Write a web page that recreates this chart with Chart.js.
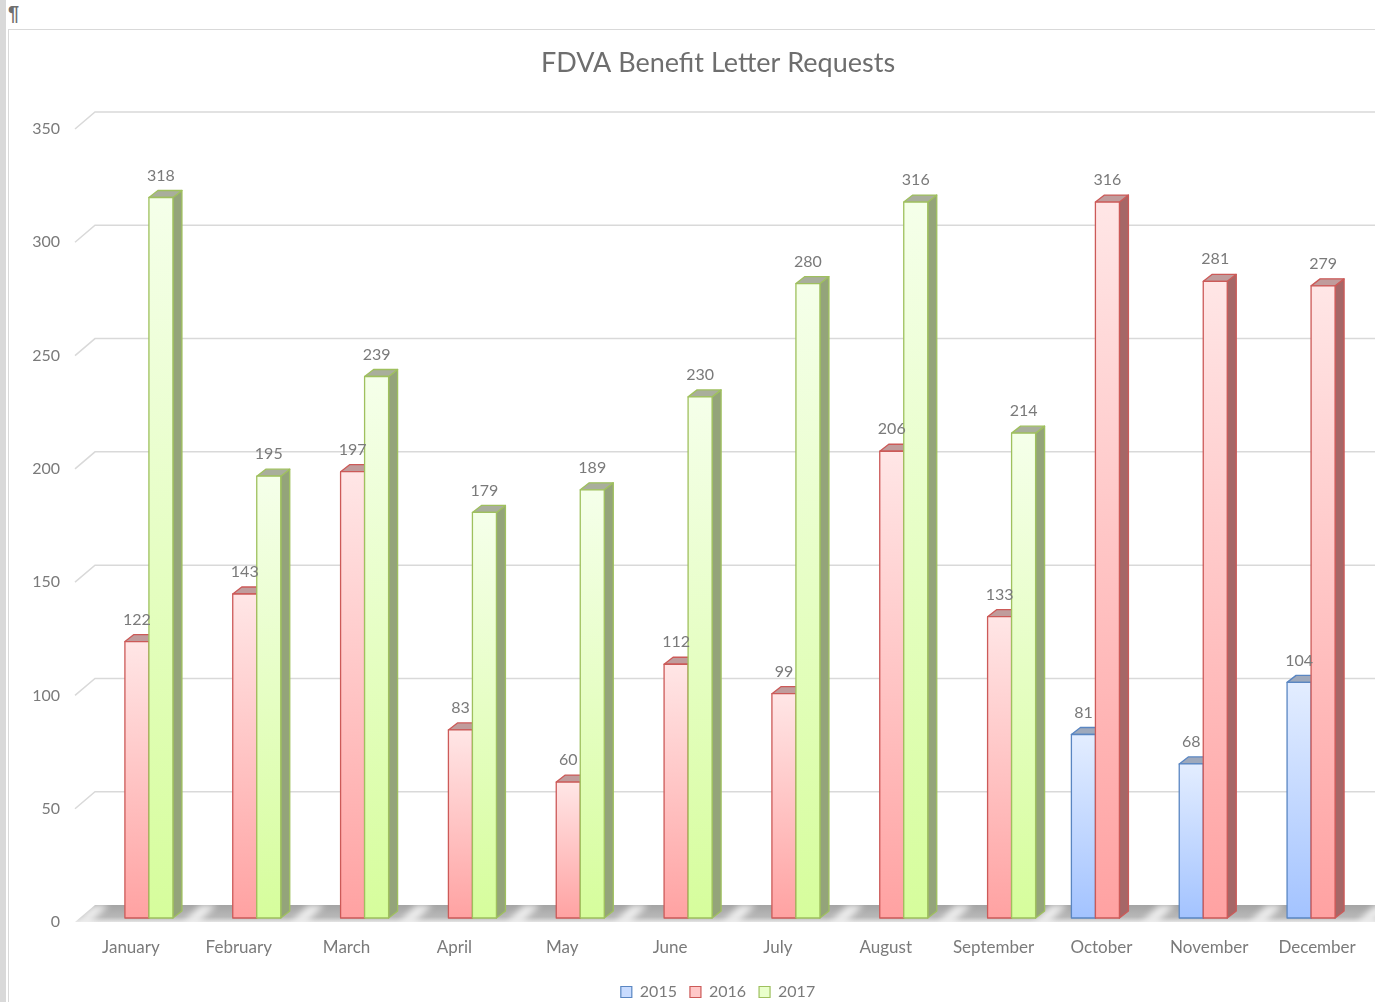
<!DOCTYPE html>
<html>
<head>
<meta charset="utf-8">
<script src="https://cdn.jsdelivr.net/npm/chart.js@4.4.1/dist/chart.umd.min.js"></script>
<style>
  html, body { margin: 0; padding: 0; background: #fff; overflow: hidden; width: 1375px; height: 1002px; }
  #strip { position: absolute; left: 0; top: 0; width: 6px; height: 1002px; background: #d9d9d9; }
  #pilcrow { position: absolute; left: 8px; top: 2px; font: bold 20px "Liberation Sans", sans-serif; color: #6f6f6f; }
  #box { position: absolute; left: 8px; top: 29px; width: 1420px; height: 973px; }
  #frameTop { position: absolute; left: 8px; top: 29px; width: 1420px; height: 1px; background: #d9d9d9; }
  #frameLeft { position: absolute; left: 8px; top: 29px; width: 1px; height: 973px; background: #d9d9d9; }
</style>
</head>
<body>
<div id="strip"></div>
<div id="pilcrow">¶</div>
<div id="box"><canvas id="chart" width="1420" height="973" style="width:1420px;height:973px"></canvas></div>
<div id="frameTop"></div>
<div id="frameLeft"></div>
<script>
// Monthly benefit letter requests
const months = ['January', 'February', 'March', 'April', 'May', 'June',
                'July', 'August', 'September', 'October', 'November', 'December'];
const seriesNames = ['2015', '2016', '2017'];
const requests2015 = [null, null, null, null, null, null, null, null, null, 81, 68, 104];
const requests2016 = [122, 143, 197, 83, 60, 112, 99, 206, 133, 316, 281, 279];
const requests2017 = [318, 195, 239, 179, 189, 230, 280, 316, 214, null, null, null];
const yMin = 0, yMax = 350, yStep = 50;

const FONT = 'Lato, "Open Sans", sans-serif';
const TEXT = '#7a7a7a';
const DEPTH_X = 9, DEPTH_Y = 7;

// Face colours for each series: front gradient, outline, top cap, right side
const looks = [
  { hi: '#e3edff', lo: '#a3c3ff', edge: '#5a86c2', cap: '#9ea9bc', side: '#7c8ca8', chip: '#c9dcff' },
  { hi: '#ffe6e6', lo: '#ffa2a2', edge: '#cc5a58', cap: '#c09c9c', side: '#a66767', chip: '#ffc8c8' },
  { hi: '#f5ffea', lo: '#d6fd9c', edge: '#9fc05e', cap: '#a9ae9c', side: '#94a47a', chip: '#e9ffcb' }
];

// Back wall gridlines plus the shaded floor
const wallAndFloor = {
  id: 'wallAndFloor',
  beforeDatasetsDraw(chart) {
    const { ctx, chartArea: a, scales: { x, y } } = chart;
    const W = chart.width;
    ctx.save();
    ctx.strokeStyle = '#d9d9d9';
    ctx.lineWidth = 1.5;
    y.ticks.forEach(t => {
      if (t.value === 0) return;
      const py = y.getPixelForValue(t.value);
      ctx.beginPath();
      ctx.moveTo(a.left - 8, py + 4);
      ctx.lineTo(a.left + 12, py - 13);
      ctx.lineTo(W, py - 13);
      ctx.stroke();
    });

    const y0 = y.getPixelForValue(0);
    const back = y0 - 13, front = y0 + 4;
    const g = ctx.createLinearGradient(0, back, 0, front);
    g.addColorStop(0, '#a4a4a4');
    g.addColorStop(0.7, '#b8b8b8');
    g.addColorStop(1, '#e4e4e4');
    ctx.fillStyle = g;
    ctx.beginPath();
    ctx.moveTo(a.left - 8, front);
    ctx.lineTo(a.left + 12, back);
    ctx.lineTo(W, back);
    ctx.lineTo(W, front);
    ctx.closePath();
    ctx.fill();

    // light streaks in the gaps between month groups
    const half = x.width / months.length / 2;
    ctx.filter = 'blur(3px)';
    ctx.fillStyle = 'rgba(255,255,255,0.75)';
    for (let i = 0; i <= months.length; i++) {
      const gx = x.getPixelForValue(i) - half + (i < 9 ? 6 : -6);
      ctx.beginPath();
      ctx.moveTo(gx - 14, front);
      ctx.lineTo(gx + 2, front);
      ctx.lineTo(gx + 20, back);
      ctx.lineTo(gx + 4, back);
      ctx.closePath();
      ctx.fill();
    }
    ctx.restore();
  }
};

// Columns drawn as boxes: front face, right side, top cap, then value labels
const boxColumns = {
  id: 'boxColumns',
  afterDatasetsDraw(chart) {
    const { ctx } = chart;
    ctx.save();
    ctx.lineWidth = 1.3;
    ctx.lineJoin = 'round';
    const labels = [];
    chart.data.datasets.forEach((ds, di) => {
      const meta = chart.getDatasetMeta(di);
      const lk = looks[di];
      meta.data.forEach((el, j) => {
        const v = ds.data[j];
        if (v === null || v === undefined) return;
        const { x, y, base, width } = el.getProps(['x', 'y', 'base', 'width'], true);
        const L = x - width / 2, R = x + width / 2;
        // right side
        ctx.beginPath();
        ctx.moveTo(R, y);
        ctx.lineTo(R + DEPTH_X, y - DEPTH_Y);
        ctx.lineTo(R + DEPTH_X, base - DEPTH_Y);
        ctx.lineTo(R, base);
        ctx.closePath();
        ctx.fillStyle = lk.side;
        ctx.fill();
        ctx.strokeStyle = lk.edge;
        ctx.stroke();
        // top cap
        ctx.beginPath();
        ctx.moveTo(L, y);
        ctx.lineTo(L + DEPTH_X, y - DEPTH_Y);
        ctx.lineTo(R + DEPTH_X, y - DEPTH_Y);
        ctx.lineTo(R, y);
        ctx.closePath();
        ctx.fillStyle = lk.cap;
        ctx.fill();
        ctx.stroke();
        // front face
        const g = ctx.createLinearGradient(0, y, 0, base);
        g.addColorStop(0, lk.hi);
        g.addColorStop(1, lk.lo);
        ctx.fillStyle = g;
        ctx.fillRect(L, y, width, base - y);
        ctx.strokeRect(L, y, width, base - y);
        labels.push({ x, y, v });
      });
    });
    ctx.fillStyle = TEXT;
    ctx.font = '16px ' + FONT;
    ctx.textAlign = 'center';
    ctx.textBaseline = 'middle';
    labels.forEach(l => ctx.fillText(String(l.v), l.x, l.y - 22));
    ctx.restore();
  }
};

const seriesData = [requests2015, requests2016, requests2017];

new Chart(document.getElementById('chart'), {
  type: 'bar',
  data: {
    labels: months,
    datasets: seriesNames.map((name, i) => ({
      label: name,
      data: seriesData[i],
      backgroundColor: 'rgba(0,0,0,0)',
      borderWidth: 0,
      categoryPercentage: 0.668,
      barPercentage: 1
    }))
  },
  options: {
    responsive: false,
    animation: false,
    events: [],
    layout: { padding: 0 },
    plugins: {
      tooltip: { enabled: false },
      title: {
        display: true,
        text: 'FDVA Benefit Letter Requests',
        color: '#6e6e6e',
        font: { family: FONT, size: 27, weight: 'normal' },
        padding: { top: 17.8, bottom: 45.8 }
      },
      legend: {
        position: 'bottom',
        maxHeight: 31,
        labels: {
          boxWidth: 11,
          boxHeight: 11,
          padding: 13,
          color: TEXT,
          font: { family: FONT, size: 16 },
          generateLabels(chart) {
            return chart.data.datasets.map((ds, i) => ({
              text: ds.label,
              fillStyle: looks[i].chip,
              strokeStyle: looks[i].edge,
              lineWidth: 1.2,
              datasetIndex: i,
              fontColor: TEXT
            }));
          }
        }
      }
    },
    scales: {
      x: {
        grid: { display: false, drawTicks: false },
        border: { display: false },
        ticks: {
          color: TEXT,
          font: { family: FONT, size: 17 },
          labelOffset: -6,
          padding: 19,
          autoSkip: false,
          maxRotation: 0
        },
        afterFit(s) { s.height = 53; }
      },
      y: {
        min: yMin,
        max: yMax,
        grid: { display: false, drawTicks: false },
        border: { display: false },
        ticks: {
          stepSize: yStep,
          color: TEXT,
          font: { family: FONT, size: 16 },
          padding: 23,
          labelOffset: 4
        },
        afterFit(s) { s.width = 75; }
      },
      // empty right-hand margin so the plot stops short of the frame edge
      yRight: {
        type: 'linear',
        position: 'right',
        min: yMin,
        max: yMax,
        grid: { display: false, drawTicks: false },
        border: { display: false },
        ticks: { display: false },
        afterFit(s) { s.width = 51; }
      }
    }
  },
  plugins: [wallAndFloor, boxColumns]
});
</script>
</body>
</html>
